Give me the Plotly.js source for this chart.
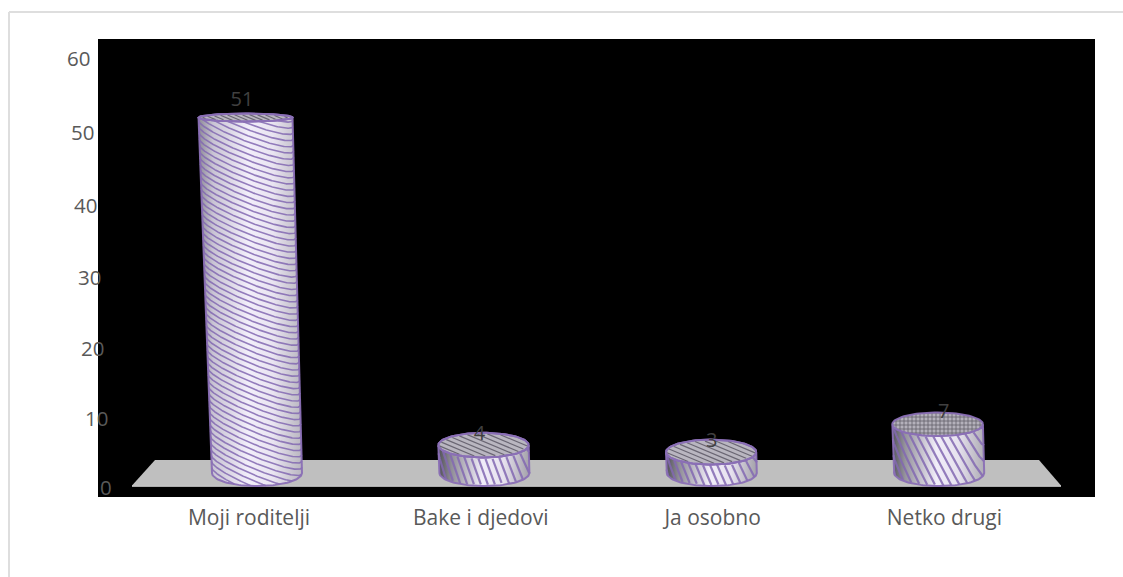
<!DOCTYPE html>
<html><head><meta charset="utf-8">
<script src="https://cdn.plot.ly/plotly-3.0.1.min.js"></script>
<style>html,body{margin:0;padding:0;background:#fff}#c{width:1123px;height:577px}</style>
</head><body><div id="c"></div>
<script>
const categories = ["Moji roditelji", "Bake i djedovi", "Ja osobno", "Netko drugi"];
const values = [51, 4, 3, 7];
const yTicks = [0, 10, 20, 30, 40, 50, 60];

// --- plot geometry (pixels of the frame)
const W = 1123, H = 577, L = 98, R = 1095, T = 39, B = 497;
const zeroPx = 486.5, unitPx = 7.14, catPx0 = 249, catStep = 231.8;
const px2x = p => (p - catPx0) / catStep;
const py2y = p => (zeroPx - p) / unitPx;

// --- look of each cylinder
const baseCx = i => 257 + 227.4 * i;
const baseCyPx = 473, heightPx = 6.97, leanPx = 0.225;
const stripeLook = [
  {m: 0.4, gap: 6.2, w: 1.6, side: ["#8d8a97", "#c9c4d4", "#f2eefa", "#e9e4f1", "#b9b6c0"]},
  {m: 3.0, gap: 21, w: 2.2, side: ["#4f4f55", "#8f8d96", "#f1edf9", "#e6e1ee", "#a3a1a9"]},
  {m: 2.5, gap: 18, w: 2.2, side: ["#4f4f55", "#8f8d96", "#f1edf9", "#e6e1ee", "#a3a1a9"]},
  {m: 2.0, gap: 16, w: 2.2, side: ["#55555c", "#96949d", "#f1edf9", "#e6e1ee", "#aeacb4"]}
];
const labelDx = [-3.5, -4, 0.5, 6];
const EDGE = "rgba(138,111,181,0.95)", STRIPE = "rgba(130,104,178,0.85)", CAP = "#b9b6c0", CAPLINE = "#6a6673";

const traces = [];
const rad = Math.PI / 180;

function pushPoly(xs, ys, extra) {
  traces.push(Object.assign({
    type: "scatter", mode: "lines", x: xs.map(px2x), y: ys.map(py2y),
    hoverinfo: "skip", showlegend: false, line: {width: 0}
  }, extra));
}

values.forEach((v, i) => {
  const look = stripeLook[i];
  const cxB = baseCx(i), cxT = cxB - v * leanPx;
  const rxB = 45, rxT = 45 + 2 * v / 51;
  const cyB = baseCyPx, cyT = baseCyPx - v * heightPx;
  const ryB = 13, ryT = 13 - 9 * v / 51;

  // body outline: top front arc left to right, bottom front arc right to left
  const bx = [], by = [];
  for (let a = -90; a <= 90; a += 3) { bx.push(cxT + rxT * Math.sin(a * rad)); by.push(cyT + ryT * Math.cos(a * rad)); }
  for (let a = 90; a >= -90; a -= 3) { bx.push(cxB + rxB * Math.sin(a * rad)); by.push(cyB + ryB * Math.cos(a * rad)); }
  bx.push(bx[0]); by.push(by[0]);

  pushPoly(bx, by, {
    fill: "toself",
    fillgradient: {type: "horizontal", colorscale: [[0, look.side[0]], [0.14, look.side[1]], [0.48, look.side[2]], [0.72, look.side[3]], [1, look.side[4]]]}
  });

  // helical stripes on the body
  const sx = [], sy = [];
  const rx = (rxT + rxB) / 2;
  const spanTop = cyT - look.m * rx * 2.2, spanBot = cyB + look.m * rx * 2.2;
  for (let s = spanTop; s <= spanBot; s += look.gap) {
    let open = false;
    for (let a = -90; a <= 90; a += 1) {
      const th = a * rad;
      const arc = Math.cos(th);
      const py = s + look.m * rx * Math.sin(th) + (ryT + ryB) / 2 * arc;
      const upper = cyT + ryT * arc, lower = cyB + ryB * arc;
      const h = (py - cyT) / (cyB - cyT);
      if (py >= upper && py <= lower) {
        const c = cxT + (cxB - cxT) * h, r = rxT + (rxB - rxT) * h;
        sx.push(c + r * Math.sin(th)); sy.push(py); open = true;
      } else if (open) { sx.push(null); sy.push(null); open = false; }
    }
    if (open) { sx.push(null); sy.push(null); }
  }
  traces.push({type: "scatter", mode: "lines", hoverinfo: "skip", showlegend: false,
    x: sx.map(p => p === null ? null : px2x(p)), y: sy.map(p => p === null ? null : py2y(p)),
    connectgaps: false, line: {color: STRIPE, width: look.w}});

  // body outline
  pushPoly(bx, by, {line: {color: EDGE, width: 2}});

  // top cap
  const tx = [], ty = [];
  for (let a = 0; a <= 360; a += 4) { tx.push(cxT + rxT * Math.sin(a * rad)); ty.push(cyT + ryT * Math.cos(a * rad)); }
  const capOpts = {fill: "toself", fillcolor: CAP, line: {color: EDGE, width: 2}};
  if (i === 3) capOpts.fillpattern = {shape: "+", fgcolor: "#5f5c68", bgcolor: "#b4b1bb", size: 4, solidity: 0.35};
  pushPoly(tx, ty, capOpts);

  if (i !== 3) {
    const cx = [], cy = [];
    const m = 0.42, gap = i === 0 ? 3.2 : 4.6;
    for (let s = cyT - ryT - m * rxT; s <= cyT + ryT + m * rxT; s += gap) {
      let open = false;
      for (let d = -rxT; d <= rxT; d += 1) {
        const py = s + m * d;
        const lim = ryT * Math.sqrt(Math.max(0, 1 - d * d / (rxT * rxT))) - 1;
        if (Math.abs(py - cyT) <= lim) { cx.push(cxT + d); cy.push(py); open = true; }
        else if (open) { cx.push(null); cy.push(null); open = false; }
      }
      if (open) { cx.push(null); cy.push(null); }
    }
    traces.push({type: "scatter", mode: "lines", hoverinfo: "skip", showlegend: false,
      x: cx.map(p => p === null ? null : px2x(p)), y: cy.map(p => p === null ? null : py2y(p)),
      line: {color: CAPLINE, width: 1.2}});
    pushPoly(tx, ty, {line: {color: EDGE, width: 2}});
  }
});

// value labels
traces.push({
  type: "scatter", mode: "text", hoverinfo: "skip", showlegend: false,
  x: values.map((v, i) => px2x(baseCx(i) - v * leanPx + labelDx[i])),
  y: values.map(v => py2y(baseCyPx - v * heightPx - 10 - 6.5 * v / 51)),
  text: values.map(String), textposition: "middle center",
  textfont: {family: "Open Sans, sans-serif", size: 20, color: "#404040"}
});

// slanted value-axis labels
const annotations = yTicks.map(t => {
  const f = t / 60;
  return {
    text: String(t), showarrow: false, xref: "paper", yref: "y",
    x: (111.5 - 21.5 * f - L) / (R - L), y: t, xanchor: "right", yanchor: "middle",
    yshift: -18 * f * (1 - f), xshift: 0, borderpad: 0, borderwidth: 0,
    font: {family: "Open Sans, sans-serif", size: 20.5, color: "#595959"}
  };
});

const shapes = [
  {type: "path", layer: "below", xref: "x", yref: "y", line: {width: 0}, fillcolor: "#bfbfbf",
   path: `M${px2x(132)},${py2y(485.5)} L${px2x(155)},${py2y(460)} L${px2x(1039)},${py2y(460)} L${px2x(1061)},${py2y(485.5)} Z`},
  {type: "line", layer: "below", xref: "x", yref: "y", line: {color: "#e4e4e4", width: 1.5},
   x0: px2x(132), x1: px2x(1061), y0: py2y(486), y1: py2y(486)},
  {type: "line", xref: "paper", yref: "paper", line: {color: "#dedede", width: 2},
   x0: (9 - L) / (R - L), x1: (W - L) / (R - L), y0: (B - 12) / (B - T), y1: (B - 12) / (B - T)},
  {type: "line", xref: "paper", yref: "paper", line: {color: "#dedede", width: 2},
   x0: (9 - L) / (R - L), x1: (9 - L) / (R - L), y0: (B - 12) / (B - T), y1: (B - H) / (B - T)}
];

Plotly.newPlot("c", traces, {
  width: W, height: H, showlegend: false, hovermode: false,
  margin: {l: L, r: W - R, t: T, b: H - B, pad: 0},
  paper_bgcolor: "#ffffff", plot_bgcolor: "#000000",
  xaxis: {range: [px2x(L), px2x(R)], showgrid: false, zeroline: false, showline: false, ticks: "",
    tickmode: "array", tickvals: categories.map((c, i) => i), ticktext: categories,
    ticklabelstandoff: 6, tickangle: 0,
    tickfont: {family: "Open Sans, sans-serif", size: 21, color: "#595959"}},
  yaxis: {range: [py2y(B), py2y(T)], showgrid: false, zeroline: false, showline: false, ticks: "",
    showticklabels: false, tickmode: "array", tickvals: yTicks},
  annotations, shapes
}, {staticPlot: true, displayModeBar: false});
</script></body></html>
